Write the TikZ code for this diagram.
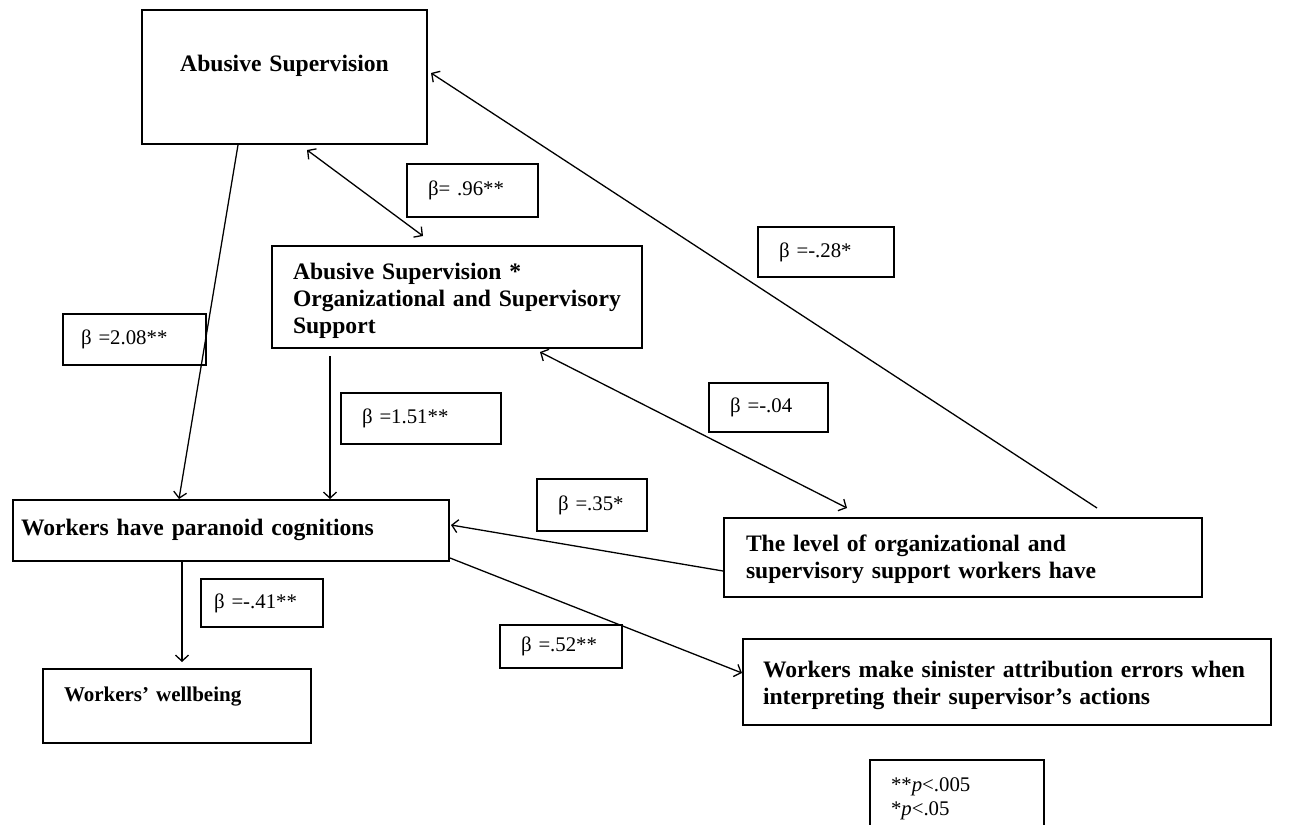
\documentclass[tikz,border=0pt]{standalone}
\usepackage{fontspec}
\setmainfont{Liberation Serif}
\usetikzlibrary{arrows.meta, calc}

\tikzset{
  varbox/.style={draw, line width=1pt, anchor=north west, inner ysep=0pt, align=left,
    font=\fontsize{11.8}{13.6}\selectfont\bfseries},
  betabox/.style={draw, line width=1pt, anchor=north west, inner ysep=0pt, inner xsep=10.5pt,
    align=left, font=\fontsize{10.4}{12}\selectfont},
  link/.style={line width=0.65pt, -{Straight Barb[length=3pt,width=6.5pt]}},
  twolink/.style={line width=0.65pt, {Straight Barb[length=3pt,width=6.5pt]}-{Straight Barb[length=3pt,width=6.5pt]}}
}

\begin{document}
\begin{tikzpicture}[x=0.5pt, y=-0.5pt]
  \clip (0,0) rectangle (1313,825);

  % variables
  \node[varbox, inner xsep=0pt, align=center, text width=142.5pt, text height=30.5pt, text depth=36.5pt] (as) at (141,9) {Abusive Supervision};
  \node[varbox, inner xsep=10.5pt, text width=164pt, text height=16.5pt, text depth=34.5pt] (asx) at (271,245) {Abusive Supervision *\\Organizational and Supervisory\\Support};
  \node[varbox, inner xsep=4pt, text width=210pt, text height=17.5pt, text depth=13pt] (par) at (12,499) {Workers have paranoid cognitions};
  \node[varbox, inner xsep=11pt, text width=217pt, text height=16.5pt, text depth=23pt] (lvl) at (723,517) {The level of organizational and\\supervisory support workers have};
  \node[varbox, inner xsep=10pt, text width=244pt, text height=19pt, text depth=24pt] (sin) at (742,638) {Workers make sinister attribution errors when\\interpreting their supervisor’s actions};
  \node[varbox, font=\fontsize{10.5}{12}\selectfont\bfseries, inner xsep=10.5pt, text width=113pt, text height=16pt, text depth=21pt] (wb) at (42,668) {Workers’ wellbeing};

  % coefficients
  \node[betabox, text width=44.5pt, minimum height=26.5pt] (b96) at (406,163) {β= .96**};
  \node[betabox, inner xsep=9pt, text width=53.5pt, minimum height=25.5pt] (b208) at (62,313) {β =2.08**};
  \node[betabox, text width=47pt, minimum height=25pt] (b28) at (757,226) {β =-.28*};
  \node[betabox, text width=38.5pt, minimum height=24.5pt] (b04) at (708,382) {β =-.04};
  \node[betabox, text width=59pt, minimum height=25.5pt] (b151) at (340,392) {β =1.51**};
  \node[betabox, text width=34pt, minimum height=26pt] (b35) at (536,478) {β =.35*};
  \node[betabox, inner xsep=6.5pt, text width=48pt, minimum height=24pt] (b41) at (200,578) {β =-.41**};
  \node[betabox, text width=40pt, minimum height=21.5pt] (b52) at (499,624) {β =.52**};
  \node[betabox, text width=66pt, text height=15.5pt, text depth=30pt] (note) at (869,759) {**\textit{p}<.005\\{*}\textit{p}<.05};

  % paths
  \draw[link] ($(as.south west)+(97,0)$) -- ($(par.north west)+(167,0)$);
  \draw[twolink] ($(as.south west)+(166,5)$) -- ($(asx.north west)+(152,-9)$);
  \draw[link] ($(asx.south west)+(59,7)$) -- ($(par.north west)+(318,0)$);
  \draw[link] ($(par.south west)+(170,0)$) -- ($(wb.north west)+(140,-6)$);
  \draw[link] ($(lvl.north west)+(374,-9)$) -- ($(as.north east)+(3,64)$);
  \draw[twolink] ($(asx.south west)+(269,3)$) -- ($(lvl.north west)+(124,-9)$);
  \draw[link] ($(lvl.north west)+(0,54)$) -- ($(par.north east)+(1,26)$);
  \draw[link] ($(par.south east)+(0,-4)$) -- ($(sin.north west)+(0,35)$);
\end{tikzpicture}
\end{document}
